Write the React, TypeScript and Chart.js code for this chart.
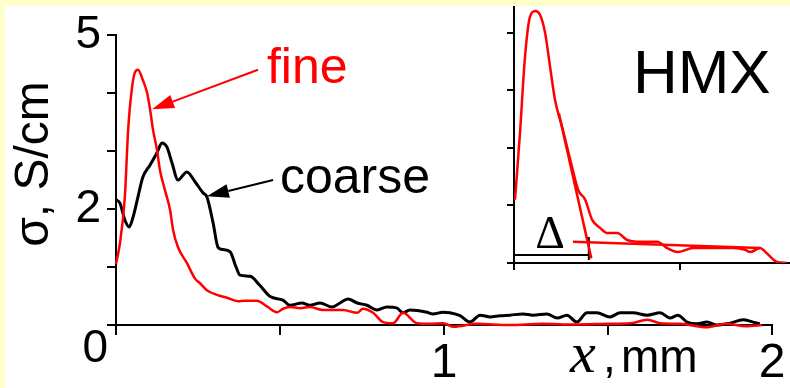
import React, { useEffect, useRef } from "react";
import { Chart, registerables } from "chart.js";

Chart.register(...registerables);

// ---- main chart data (x in mm, sigma in S/cm) ----
const fineX = [0, 0.012, 0.027, 0.037, 0.049, 0.058, 0.067, 0.082, 0.095, 0.104, 0.113, 0.125, 0.134, 0.149, 0.165, 0.174, 0.189, 0.216, 0.241, 0.256, 0.277, 0.308, 0.338, 0.372, 0.393, 0.43, 0.46, 0.491, 0.509, 0.53, 0.561, 0.591, 0.631, 0.692, 0.735, 0.753, 0.784, 0.814, 0.845, 0.875, 0.918, 0.957, 0.997, 1.03, 1.1, 1.2, 1.3, 1.4, 1.5, 1.57, 1.62, 1.66, 1.72, 1.8, 1.86, 1.92, 1.97];
const fineY = [1.05, 1.41, 2.21, 3.36, 4.1, 4.36, 4.4, 4.22, 4.0, 3.71, 3.36, 3.02, 2.67, 2.33, 1.98, 1.64, 1.34, 1.07, 0.8, 0.72, 0.6, 0.52, 0.47, 0.41, 0.42, 0.42, 0.32, 0.22, 0.28, 0.31, 0.29, 0.31, 0.26, 0.26, 0.21, 0.28, 0.21, 0.05, 0.03, 0.21, 0.03, 0.02, 0.03, -0.03, 0.02, 0.0, 0.02, 0.01, 0.02, 0.03, 0.09, 0.03, 0.02, -0.04, 0.02, -0.02, 0.0];

const coarseX = [0, 0.012, 0.027, 0.04, 0.052, 0.067, 0.082, 0.104, 0.125, 0.14, 0.155, 0.171, 0.189, 0.216, 0.241, 0.265, 0.277, 0.296, 0.311, 0.326, 0.348, 0.366, 0.378, 0.409, 0.439, 0.47, 0.509, 0.53, 0.567, 0.591, 0.622, 0.659, 0.683, 0.707, 0.735, 0.765, 0.796, 0.826, 0.857, 0.875, 0.896, 0.948, 0.966, 0.997, 1.018, 1.049, 1.079, 1.11, 1.14, 1.171, 1.201, 1.241, 1.271, 1.314, 1.345, 1.375, 1.405, 1.436, 1.466, 1.506, 1.537, 1.576, 1.619, 1.659, 1.689, 1.713, 1.741, 1.771, 1.802, 1.832, 1.872, 1.912, 1.942, 1.963];
const coarseY = [2.16, 2.1, 1.81, 1.69, 1.86, 2.21, 2.55, 2.76, 2.97, 3.14, 3.07, 2.79, 2.5, 2.64, 2.47, 2.28, 2.21, 1.76, 1.34, 1.3, 1.26, 1.0, 0.86, 0.84, 0.68, 0.49, 0.43, 0.34, 0.38, 0.34, 0.38, 0.31, 0.38, 0.45, 0.38, 0.34, 0.26, 0.31, 0.29, 0.21, 0.26, 0.22, 0.19, 0.22, 0.21, 0.16, 0.05, 0.17, 0.14, 0.16, 0.17, 0.19, 0.17, 0.19, 0.12, 0.17, 0.05, 0.21, 0.21, 0.14, 0.21, 0.21, 0.17, 0.21, 0.12, 0.17, 0.05, 0.02, 0.05, 0.0, 0.03, 0.09, 0.05, 0.02];

const yLabelValues = [2, 5];
const xLabelValues = [1, 2];
const originLabel = "0";

// ---- inset data (fine, enlarged) ----
const insetX = [0.006, 0.036, 0.066, 0.096, 0.127, 0.157, 0.187, 0.217, 0.247, 0.289, 0.319, 0.349, 0.386, 0.428, 0.47, 0.518, 0.56, 0.62, 0.681, 0.741, 0.861, 0.922, 0.982, 1.078, 1.22, 1.32, 1.39, 1.42, 1.48, 1.52, 1.58, 1.64];
const insetY = [1.1, 2.26, 3.58, 4.28, 4.38, 4.31, 4.0, 3.41, 2.83, 2.37, 2.02, 1.67, 1.27, 1.1, 0.75, 0.61, 0.52, 0.52, 0.4, 0.37, 0.37, 0.26, 0.19, 0.26, 0.26, 0.26, 0.23, 0.19, 0.26, 0.17, 0.02, 0.0];
const tangentX = [0.27, 0.465];
const tangentY = [2.6, 0.08];
const baseLineX = [0.355, 1.48];
const baseLineY = [0.37, 0.26];
const bracketX = [0, 0.45, 0.45, 0.45];
const bracketY = [0.14, 0.14, 0.45, 0.05];

// ---- annotation anchors (data units) ----
const fineLabelPos = [0.46, 4.17];
const coarseLabelPos = [0.5, 2.27];
const hmxLabelPos = [1.576, 4.0];
const fineArrow = [0.433, 4.4, 0.11, 3.72];
const coarseArrow = [0.479, 2.5, 0.277, 2.22];
const deltaPos = [0.217, 0.26];

const SANS = "'Liberation Sans', Arial, sans-serif";
const SERIF = "'Liberation Serif', 'Times New Roman', serif";

const pts = (xs: number[], ys: number[]) => xs.map((x, i) => ({ x, y: ys[i] }));

function drawArrow(ctx: CanvasRenderingContext2D, x1: number, y1: number, x2: number, y2: number, color: string) {
  const headLen = 22;
  const headW = 7;
  const ang = Math.atan2(y2 - y1, x2 - x1);
  const bx = x2 - headLen * Math.cos(ang);
  const by = y2 - headLen * Math.sin(ang);
  ctx.strokeStyle = color;
  ctx.lineWidth = 2;
  ctx.beginPath();
  ctx.moveTo(x1, y1);
  ctx.lineTo(bx, by);
  ctx.stroke();
  ctx.fillStyle = color;
  ctx.beginPath();
  ctx.moveTo(x2, y2);
  ctx.lineTo(bx + headW * Math.sin(ang), by - headW * Math.cos(ang));
  ctx.lineTo(bx - headW * Math.sin(ang), by + headW * Math.cos(ang));
  ctx.closePath();
  ctx.fill();
}

const mainAnnot = {
  id: "mainAnnot",
  afterDatasetsDraw(chart: any) {
    const { ctx } = chart;
    const xs = chart.scales.x;
    const ys = chart.scales.y;
    const px = (v: number) => xs.getPixelForValue(v);
    const py = (v: number) => ys.getPixelForValue(v);
    ctx.save();
    drawArrow(ctx, px(fineArrow[0]), py(fineArrow[1]), px(fineArrow[2]), py(fineArrow[3]), "#FF0000");
    drawArrow(ctx, px(coarseArrow[0]), py(coarseArrow[1]), px(coarseArrow[2]), py(coarseArrow[3]), "#000000");
    ctx.textBaseline = "alphabetic";
    ctx.textAlign = "left";
    ctx.font = `50px ${SANS}`;
    ctx.fillStyle = "#FF0000";
    ctx.fillText("fine", px(fineLabelPos[0]), py(fineLabelPos[1]));
    ctx.fillStyle = "#000000";
    ctx.fillText("coarse", px(coarseLabelPos[0]), py(coarseLabelPos[1]));
    ctx.font = `62px ${SANS}`;
    ctx.fillText("HMX", px(hmxLabelPos[0]), py(hmxLabelPos[1]));
    ctx.font = `46px ${SANS}`;
    ctx.textAlign = "right";
    ctx.textBaseline = "middle";
    ctx.fillText(originLabel, px(0) - 8, py(0) + 24);
    ctx.textAlign = "left";
    ctx.textBaseline = "alphabetic";
    const tx = px(1.384);
    const ty = py(0) + 47;
    ctx.font = `italic 58px ${SERIF}`;
    ctx.fillText("x", tx, ty);
    ctx.font = `46px ${SANS}`;
    ctx.fillText(",", tx + 33, ty);
    ctx.fillText("mm", tx + 51, ty);
    ctx.translate(48, (ys.top + ys.bottom) / 2 - 16);
    ctx.rotate(-Math.PI / 2);
    ctx.textAlign = "center";
    ctx.font = `48px ${SANS}`;
    ctx.fillText("σ, S/cm", 0, 0);
    ctx.restore();
  },
};

const insetAnnot = {
  id: "insetAnnot",
  afterDatasetsDraw(chart: any) {
    const { ctx } = chart;
    const xs = chart.scales.x;
    const ys = chart.scales.y;
    ctx.save();
    ctx.font = `46px ${SERIF}`;
    ctx.fillStyle = "#000";
    ctx.textAlign = "center";
    ctx.textBaseline = "alphabetic";
    ctx.fillText("Δ", xs.getPixelForValue(deltaPos[0]), ys.getPixelForValue(deltaPos[1]));
    ctx.restore();
  },
};

export default function App() {
  const mainRef = useRef<HTMLCanvasElement>(null);
  const insetRef = useRef<HTMLCanvasElement>(null);

  useEffect(() => {
    const axisCommon = {
      border: { display: true, color: "#000", width: 2 },
    };
    const main = new Chart(mainRef.current!, {
      type: "line",
      data: {
        datasets: [
          {
            label: "fine",
            data: pts(fineX, fineY),
            borderColor: "#FF0000",
            borderWidth: 2.5,
            pointRadius: 0,
            cubicInterpolationMode: "monotone",
            clip: false,
          } as any,
          {
            label: "coarse",
            data: pts(coarseX, coarseY),
            borderColor: "#000000",
            borderWidth: 3,
            pointRadius: 0,
            cubicInterpolationMode: "monotone",
            clip: false,
          } as any,
        ],
      },
      options: {
        responsive: false,
        animation: false,
        devicePixelRatio: 1,
        events: [],
        layout: { padding: { left: 0, top: 35, right: 18, bottom: 0 } },
        plugins: { legend: { display: false }, tooltip: { enabled: false } },
        scales: {
          x: {
            type: "linear",
            min: 0,
            max: 2,
            ...axisCommon,
            afterFit: (s: any) => {
              s.height = 63;
            },
            grid: { drawOnChartArea: false, drawTicks: true, tickLength: 10, color: "#000", lineWidth: 2 },
            ticks: {
              stepSize: 0.5,
              autoSkip: false,
              maxRotation: 0,
              includeBounds: false,
              padding: 0,
              color: "#000",
              font: { family: SANS, size: 48 },
              callback: (v: any) => (xLabelValues.includes(Number(v)) ? String(v) : ""),
            },
          } as any,
          y: {
            type: "linear",
            min: 0,
            max: 5,
            ...axisCommon,
            afterFit: (s: any) => {
              s.width = 116;
            },
            grid: { drawOnChartArea: false, drawTicks: true, tickLength: 9, color: "#000", lineWidth: 2 },
            ticks: {
              stepSize: 1,
              autoSkip: false,
              includeBounds: false,
              padding: 6,
              color: "#000",
              font: { family: SANS, size: 46 },
              callback: (v: any) => (yLabelValues.includes(Number(v)) ? String(v) : ""),
            },
          } as any,
        },
      },
      plugins: [mainAnnot],
    });

    const inset = new Chart(insetRef.current!, {
      type: "line",
      data: {
        datasets: [
          { data: pts(insetX, insetY), borderColor: "#FF0000", borderWidth: 2.5, pointRadius: 0, cubicInterpolationMode: "monotone" } as any,
          { data: pts(tangentX, tangentY), borderColor: "#FF0000", borderWidth: 2.5, pointRadius: 0 } as any,
          { data: pts(baseLineX, baseLineY), borderColor: "#FF0000", borderWidth: 2.5, pointRadius: 0 } as any,
          { data: pts(bracketX, bracketY), borderColor: "#000000", borderWidth: 2, pointRadius: 0, tension: 0 } as any,
        ],
      },
      options: {
        responsive: false,
        animation: false,
        devicePixelRatio: 1,
        events: [],
        layout: { padding: { left: 506, top: 7, right: 0, bottom: 0 } },
        plugins: { legend: { display: false }, tooltip: { enabled: false } },
        scales: {
          x: {
            type: "linear",
            min: 0,
            max: 1.66,
            ...axisCommon,
            afterFit: (s: any) => {
              s.height = 125;
            },
            grid: { drawOnChartArea: false, drawTicks: true, tickLength: 7, color: "#000", lineWidth: 2 },
            ticks: { display: false, stepSize: 1, includeBounds: false },
          } as any,
          y: {
            type: "linear",
            min: 0,
            max: 4.45,
            ...axisCommon,
            afterFit: (s: any) => {
              s.width = 8;
            },
            grid: { drawOnChartArea: false, drawTicks: true, tickLength: 7, color: "#000", lineWidth: 2 },
            ticks: { display: false, stepSize: 1, includeBounds: false },
          } as any,
        },
      },
      plugins: [insetAnnot],
    });

    return () => {
      main.destroy();
      inset.destroy();
    };
  }, []);

  return (
    <div style={{ position: "absolute", left: 0, top: 0, width: 790, height: 388, background: "#FFFFCC", overflow: "hidden" }}>
      <div style={{ position: "absolute", left: 5, top: 6, right: 0, bottom: 0, background: "#FFFFFF" }} />
      <canvas ref={mainRef} width={790} height={388} style={{ position: "absolute", left: 0, top: 0 }} />
      <canvas ref={insetRef} width={790} height={388} style={{ position: "absolute", left: 0, top: 0 }} />
    </div>
  );
}
